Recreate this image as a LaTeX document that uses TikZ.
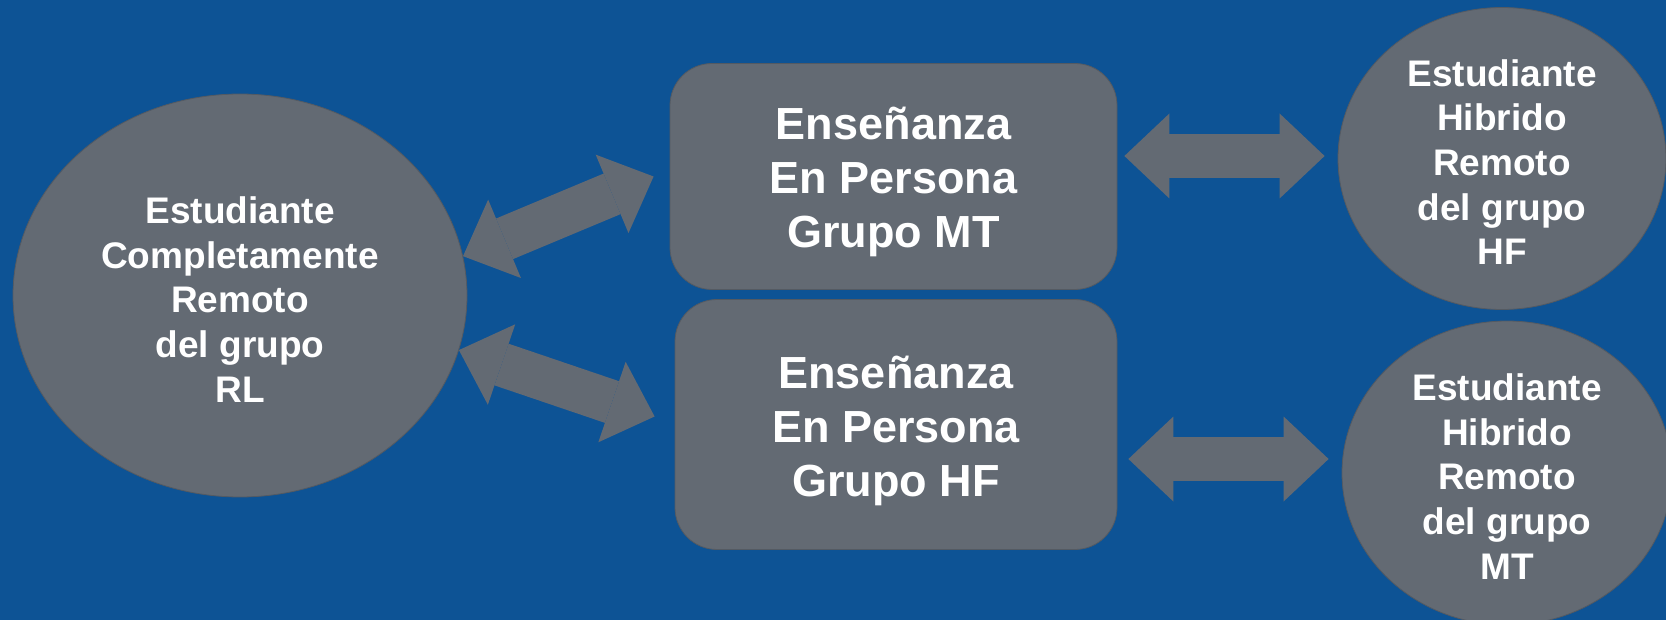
\documentclass[tikz,border=0pt]{standalone}
\usepackage{fontspec}
\setmainfont{Liberation Sans}
\usepackage{tikz}
\usetikzlibrary{arrows.meta}
\usetikzlibrary{shapes.geometric}

\definecolor{fondo}{HTML}{0D5395}
\definecolor{gris}{HTML}{636A73}

\begin{document}
\begin{tikzpicture}[x=1pt,y=-1pt]
				\useasboundingbox (0,0) rectangle (1666,620);
				\clip (0,0) rectangle (1666,620);
				\fill[fondo] (0,0) rectangle (1666,620);
				% formas
				\begin{scope}[every node/.style = {fill=gris, draw=gris!85!black, line width=0.8pt, inner sep=0pt}]
					\node[ellipse, minimum width=454pt, minimum height=403pt] (rl) at (240,295.5) {};
					\node[rounded corners=42pt, minimum width=447pt, minimum height=226pt] (mt) at (893.5,176.5) {};
					\node[rounded corners=42pt, minimum width=442pt, minimum height=250pt] (hf) at (896,424.5) {};
					\node[ellipse, minimum width=328pt, minimum height=302pt] (hfr) at (1502,158.5) {};
					\node[ellipse, minimum width=330pt, minimum height=304pt] (mtr) at (1507,473) {};
				\end{scope}
				% textos
				\begin{scope}[every node/.style = {text=white, align=center, inner sep=0pt},
					txtelipse/.style = {font=\fontsize{37}{44.6}\selectfont\bfseries},
					txtcaja/.style = {font=\fontsize{45}{54}\selectfont\bfseries}]
					\node[txtelipse] (rltxt) at ([yshift=-4pt]rl.center) {Estudiante\\Completamente\\Remoto\\del grupo\\RL};
					\node[txtcaja] (mttxt) at ([yshift=-5.5pt]mt.center) {Enseñanza\\En Persona\\Grupo MT};
					\node[txtcaja] (hftxt) at ([yshift=-6pt]hf.center) {Enseñanza\\En Persona\\Grupo HF};
					\node[txtelipse] (hfrtxt) at ([yshift=-3.5pt]hfr.center) {Estudiante\\Hibrido\\Remoto\\del grupo\\HF};
					\node[txtelipse] (mtrtxt) at ([yshift=-3.5pt]mtr.center) {Estudiante\\Hibrido\\Remoto\\del grupo\\MT};
				\end{scope}
				% flechas
				\begin{scope}[>={Triangle[length=45pt, width=85pt, line width=0pt]},
						every edge/.style={draw=gris, line width=44pt}]
					\path [<->] (rl.10) edge ([xshift=-16pt]mt.west);
					\path [<->] (rl.-14) edge ([shift={(-20,-8)}]hf.west);
					\path [<->] ([shift={(7,-20.5)}]mt.east) edge ([shift={(-13,-2.5)}]hfr.west);
					\path [<->] ([shift={(11,34.5)}]hf.east) edge ([shift={(-13,-14)}]mtr.west);
				\end{scope}
			\end{tikzpicture}
\end{document}
